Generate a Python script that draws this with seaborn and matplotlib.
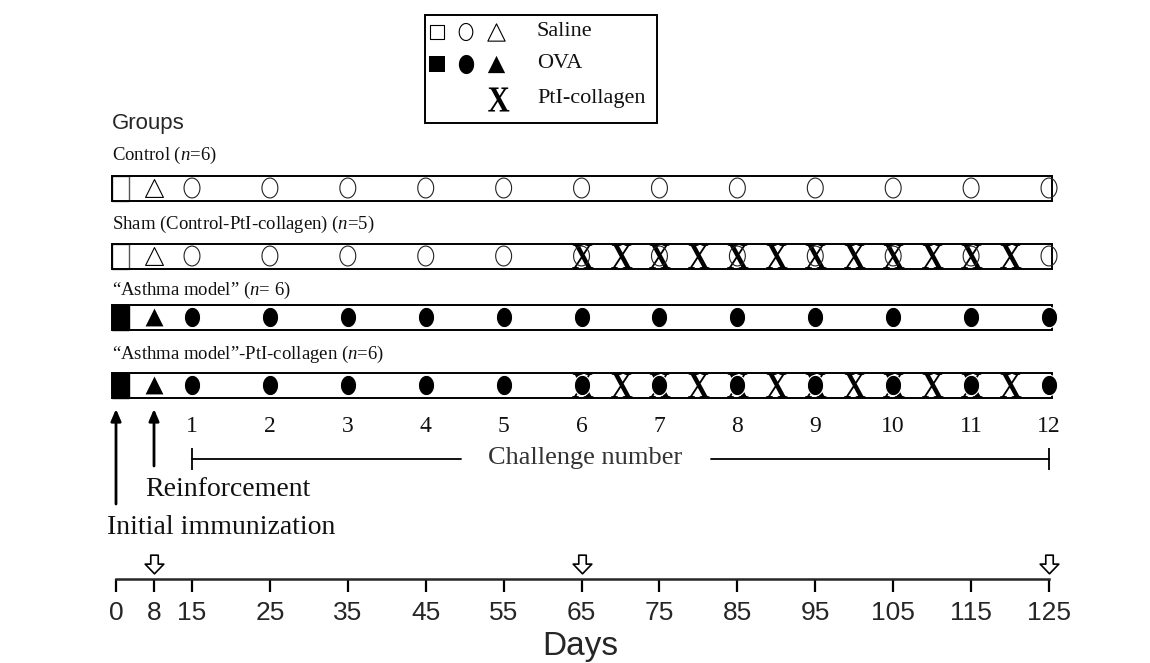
import numpy as np
import pandas as pd
import matplotlib
matplotlib.use("Agg")
import matplotlib.pyplot as plt
import seaborn as sns
from matplotlib.path import Path
from matplotlib.textpath import TextPath
from matplotlib.font_manager import FontProperties
from matplotlib.patches import Rectangle

# ------------------------------------------------------------------ data
group_names = ["Control", "Sham (Control-PtI-collagen)",
               "\u201cAsthma model\u201d", "\u201cAsthma model\u201d-PtI-collagen"]
group_n = ["6", "5", " 6", "6"]
group_ova = [False, False, True, True]
group_ptl = [False, True, False, True]

immunization_day = 0
reinforcement_day = 8
challenge_days = [15, 25, 35, 45, 55, 65, 75, 85, 95, 105, 115, 125]
challenge_numbers = [1, 2, 3, 4, 5, 6, 7, 8, 9, 10, 11, 12]
ptl_days = [65, 70, 75, 80, 85, 90, 95, 100, 105, 110, 115, 120]
sampling_days = [8, 65, 125]
day_ticks = [0, 8, 15, 25, 35, 45, 55, 65, 75, 85, 95, 105, 115, 125]
legend_labels = ["Saline", "OVA", "PtI-collagen"]

# ------------------------------------------------------------------ style
sns.set_style("white")
plt.rcParams["font.family"] = ["Liberation Serif", "DejaVu Serif"]
plt.rcParams["mathtext.fontset"] = "custom"
plt.rcParams["mathtext.rm"] = "Liberation Serif"
plt.rcParams["mathtext.it"] = "Liberation Serif:italic"
SANS = "Liberation Sans"

# piecewise-linear day scale (the early part of the timeline is compressed)
BP_DAY = np.array([-50.0, 0.0, 8.0, 15.0, 125.0, 250.0])
BP_PX = np.array([-121.5, 116.0, 154.0, 192.0, 1049.0, 2022.75])


def fwd(d):
    return np.interp(d, BP_DAY, BP_PX)


def inv(p):
    return np.interp(p, BP_PX, BP_DAY)


W, H = 1150, 663
fig = plt.figure(figsize=(W / 100, H / 100), dpi=100)
ax = fig.add_axes([0, 0, 1, 1])
ax.set_xscale("function", functions=(fwd, inv))

# markers
t = np.linspace(0, 2 * np.pi, 73)
ellipse = Path(np.column_stack([0.8 * np.cos(t), np.sin(t)]), closed=True)
tp = TextPath((0, 0), "X", size=1, prop=FontProperties(family="Liberation Serif", weight="bold"))
xv = tp.vertices.copy()
xv[:, 0] -= (xv[:, 0].max() + xv[:, 0].min()) / 2
xv[:, 1] -= (xv[:, 1].max() + xv[:, 1].min()) / 2
xv[:, 1] *= 1.2
x_marker = Path(xv, tp.codes)
arrow_marker = Path([(-0.2, 0.5), (0.2, 0.5), (0.2, 0.02), (0.5, 0.02), (0.0, -0.5),
                     (-0.5, 0.02), (-0.2, 0.02), (-0.2, 0.5)], closed=True)

# layout (pixel rows)
row_y = [188, 256, 317, 385]
label_y = [155, 224, 290, 354]
bar_h = 25
bar_left = inv(112)
sq_right = inv(129)
bar_right = inv(1052)

# ------------------------------------------------------------------ group bars
for gi in range(len(group_names)):
    y = row_y[gi]
    ax.barh(y, sq_right - bar_left, left=bar_left, height=bar_h,
            color="black" if group_ova[gi] else "white",
            edgecolor="black" if group_ova[gi] else "#555555", linewidth=1.0, zorder=1)
    ax.barh(y, bar_right - bar_left, left=bar_left, height=bar_h, color="none",
            edgecolor="black", linewidth=1.4, zorder=1.5)
    ax.text(bar_left, label_y[gi], f"{group_names[gi]} ($\\mathit{{n}}$={group_n[gi]})",
            fontsize=13.5, va="center", ha="left", color="#111111")

rows = []
for gi, (ova, ptl) in enumerate(zip(group_ova, group_ptl)):
    rows.append(dict(day=reinforcement_day, y=row_y[gi], kind="tri", ova=ova))
    for d in challenge_days:
        rows.append(dict(day=d, y=row_y[gi], kind="circ", ova=ova))
    if ptl:
        for d in ptl_days:
            rows.append(dict(day=d, y=row_y[gi], kind="x", ova=ova))
marks = pd.DataFrame(rows)

sub = marks[marks.kind == "x"]
sns.scatterplot(data=sub, x="day", y="y", marker=x_marker, s=310, color="black",
                linewidth=0, zorder=3, ax=ax, legend=False)
for ova in (False, True):
    sub = marks[(marks.kind == "circ") & (marks.ova == ova)]
    if ova:
        sns.scatterplot(data=sub, x="day", y="y", marker=ellipse, s=215, color="black",
                        edgecolor="white", linewidth=0.8, zorder=4, ax=ax, legend=False)
    else:
        sns.scatterplot(data=sub, x="day", y="y", marker=ellipse, s=205, color="none",
                        edgecolor="#222222", linewidth=0.8, zorder=4, ax=ax, legend=False)
    sub = marks[(marks.kind == "tri") & (marks.ova == ova)]
    sns.scatterplot(data=sub, x="day", y="y", marker="^", s=165,
                    color="black" if ova else "white", edgecolor="black",
                    linewidth=0 if ova else 0.8, zorder=4, ax=ax, legend=False)

# ------------------------------------------------------------------ challenge numbers
for d, n in zip(challenge_days, challenge_numbers):
    ax.text(d, 427, str(n), fontsize=17, ha="center", va="center", color="#111111")
ax.plot([challenge_days[0], inv(461)], [459, 459], color="black", lw=1.3)
ax.plot([inv(711), challenge_days[-1]], [459, 459], color="black", lw=1.3)
ax.vlines([challenge_days[0], challenge_days[-1]], 448, 470, color="black", lw=1.3)
ax.text(inv(585), 458, "Challenge number", fontsize=19, ha="center", va="center", color="#333333")

# immunization arrows
arrow_kw = dict(arrowstyle="-|>,head_length=0.7,head_width=0.3", lw=2.0, color="black",
                shrinkA=0, shrinkB=0)
ax.annotate("", xy=(immunization_day, 409), xytext=(immunization_day, 504), arrowprops=arrow_kw)
ax.annotate("", xy=(reinforcement_day, 409), xytext=(reinforcement_day, 466), arrowprops=arrow_kw)
ax.text(inv(145), 490, "Reinforcement", fontsize=20, ha="left", va="center", color="#111111")
ax.text(inv(107), 528, "Initial immunization", fontsize=20, ha="left", va="center", color="#111111")

# sampling arrows
sns.scatterplot(x=sampling_days, y=[564] * len(sampling_days), marker=arrow_marker, s=180,
                color="white", edgecolor="black", linewidth=1.2, zorder=4, ax=ax, legend=False)

# ------------------------------------------------------------------ legend box
ax.add_patch(Rectangle((inv(425), 15), inv(657) - inv(425), 108, fill=False,
                       edgecolor="black", lw=1.4, zorder=2))
lx = inv(np.array([437, 466, 496]))
for row, ova in zip([32, 64], [False, True]):
    fc = "black" if ova else "white"
    lw = 0 if ova else 0.8
    sns.scatterplot(x=[lx[0]], y=[row], marker="s", s=140 if ova else 115, color=fc,
                    edgecolor="black", linewidth=lw, ax=ax, legend=False, zorder=4)
    sns.scatterplot(x=[lx[1]], y=[row], marker=ellipse, s=190 if ova else 150,
                    color=fc if ova else "none",
                    edgecolor="black", linewidth=lw, ax=ax, legend=False, zorder=4)
    sns.scatterplot(x=[lx[2]], y=[row], marker="^", s=155, color=fc,
                    edgecolor="black", linewidth=lw, ax=ax, legend=False, zorder=4)
sns.scatterplot(x=[inv(498)], y=[99], marker=x_marker, s=300, color="black", linewidth=0,
                ax=ax, legend=False, zorder=4)
for yy, lab in zip([32, 64, 99], legend_labels):
    ax.text(inv(537), yy, lab, fontsize=16, ha="left", va="center", color="#111111")

ax.text(inv(112), 123, "Groups", fontsize=16, family=SANS, ha="left", va="center")

ax.set_xlim(inv(0), inv(W))
ax.set_ylim(H, 0)
ax.axis("off")

# ------------------------------------------------------------------ days axis
ax2 = fig.add_axes([0, 1 - 579 / H, 1, 0.0005])
ax2.set_xscale("function", functions=(fwd, inv))
ax2.set_xlim(inv(0), inv(W))
ax2.set_facecolor("none")
for s in ("top", "left", "right"):
    ax2.spines[s].set_visible(False)
ax2.spines["bottom"].set_bounds(day_ticks[0], day_ticks[-1])
ax2.spines["bottom"].set_linewidth(1.8)
ax2.set_yticks([])
ax2.set_xticks(day_ticks)
ax2.set_xticklabels([str(d) for d in day_ticks], family=SANS, fontsize=19)
ax2.tick_params(axis="x", which="major", bottom=True, direction="out", length=9.5,
                width=1.6, pad=6, color="black")
ax2.minorticks_off()
ax.text(inv(580), 646, "Days", fontsize=24, family=SANS, ha="center", va="center")

fig.savefig("out.png", dpi=100)
